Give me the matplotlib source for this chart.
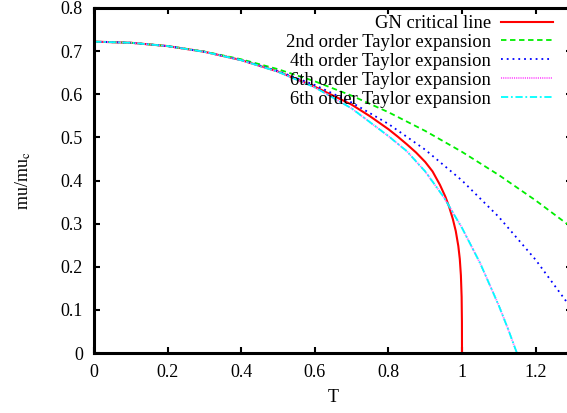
import matplotlib
matplotlib.use("Agg")
import matplotlib.pyplot as plt

plt.rcParams["font.family"] = ["Liberation Serif", "DejaVu Serif"]
plt.rcParams["mathtext.fontset"] = "stix"
plt.rcParams["font.size"] = 13

# GN critical line
t_gn = [0, 0.1, 0.2, 0.3, 0.4, 0.5, 0.6, 0.7, 0.75, 0.8, 0.825, 0.85, 0.875, 0.9,
        0.92, 0.94, 0.955, 0.965, 0.975, 0.983, 0.99, 0.994, 0.997, 0.999, 0.9998, 1.0]
mu_gn = [0.722, 0.7194, 0.7117, 0.6985, 0.6792, 0.6527, 0.6175, 0.5760, 0.5490,
         0.5190, 0.5020, 0.4840, 0.4650, 0.4430, 0.4210, 0.3900, 0.3620, 0.3390,
         0.3110, 0.2830, 0.2480, 0.2180, 0.1800, 0.1300, 0.0720, 0.0]

# Taylor expansions
t_tay = [0, 0.1, 0.2, 0.3, 0.4, 0.5, 0.6, 0.7, 0.8, 0.9, 1.0, 1.1, 1.2, 1.3]
mu_2nd = [0.722, 0.7194, 0.7118, 0.6990, 0.6811, 0.6581, 0.6300, 0.5968, 0.5584,
          0.5150, 0.4664, 0.4127, 0.3539, 0.2900]
mu_4th = [0.722, 0.7194, 0.7117, 0.6985, 0.6794, 0.6539, 0.6214, 0.5809, 0.5312,
          0.4714, 0.4000, 0.3155, 0.2162, 0.1004]

t_6th = [0, 0.1, 0.2, 0.3, 0.4, 0.5, 0.6, 0.7, 0.8, 0.85, 0.9, 0.95, 1.0, 1.05,
         1.1, 1.125, 1.15]
mu_6th = [0.722, 0.7194, 0.7117, 0.6984, 0.6789, 0.6521, 0.6160, 0.5672, 0.5030,
          0.4680, 0.4210, 0.3620, 0.2900, 0.2070, 0.1100, 0.0560, -0.0020]

labels = ["GN critical line", "2nd order Taylor expansion", "4th order Taylor expansion",
          "6th order Taylor expansion", "6th order Taylor expansion"]

fig = plt.figure(figsize=(5.67, 4.13), dpi=100)
ax = fig.add_axes([94 / 567, 60 / 413, (572.4 - 94) / 567, 345 / 413])

ax.plot(t_gn, mu_gn, color="#ff0000", lw=1.5, label=labels[0])
ax.plot(t_tay, mu_2nd, color="#00ee00", lw=1.3, dashes=(3, 2), label=labels[1])
ax.plot(t_tay, mu_4th, color="#0000ff", lw=1.3, dashes=(1, 2.2), label=labels[2])
ax.plot(t_6th, mu_6th, color="#ff55ff", lw=1.3, dashes=(0.6, 0.6), label=labels[3])
ax.plot(t_6th, mu_6th, color="#00ffff", lw=1.3, dashes=(4, 1.5, 1, 1.5), label=labels[4])

ax.set_xlim(0, 1.3)
ax.set_ylim(0, 0.8)
ax.set_xticks([0, 0.2, 0.4, 0.6, 0.8, 1.0, 1.2])
ax.set_xticklabels(["0", "0.2", "0.4", "0.6", "0.8", "1", "1.2"])
ax.set_yticks([0, 0.1, 0.2, 0.3, 0.4, 0.5, 0.6, 0.7, 0.8])
ax.set_yticklabels(["0", "0.1", "0.2", "0.3", "0.4", "0.5", "0.6", "0.7", "0.8"])
ax.tick_params(direction="in", length=4, width=1.5, top=True, right=True, pad=8)
for s in ax.spines.values():
    s.set_linewidth(2.2)

ax.set_xlabel("T", labelpad=6)
ax.set_ylabel(r"mu/mu$_\mathrm{c}$", labelpad=20)

ax.legend(loc="upper right", bbox_to_anchor=(553 / 567, 1 - 15 / 413),
          bbox_transform=fig.transFigure, frameon=False, markerfirst=False,
          fontsize=13.4, handlelength=2.8, handletextpad=0.55, labelspacing=0.1,
          borderpad=0, borderaxespad=0)

fig.savefig("out.png", dpi=100)
